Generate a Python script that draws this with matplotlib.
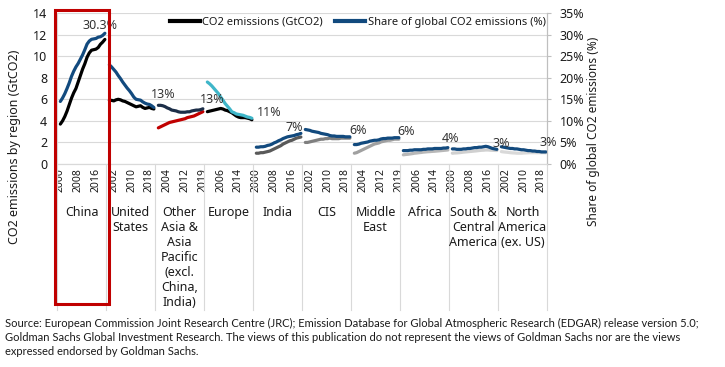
import matplotlib.pyplot as plt
from matplotlib.lines import Line2D
from matplotlib.patches import Rectangle
import matplotlib.transforms as mtransforms

plt.rcParams['font.family'] = ['Noto Sans', 'DejaVu Sans']

regions = ['China', 'United\nStates', 'Other\nAsia &\nAsia\nPacific\n(excl.\nChina,\nIndia)',
           'Europe', 'India', 'CIS', 'Middle\nEast', 'Africa',
           'South &\nCentral\nAmerica', 'North\nAmerica\n(ex. US)']

# CO2 emissions (GtCO2), 21 points per region
co2_china = [3.7, 4.0, 4.4, 4.9, 5.5, 6.1, 6.6, 7.0, 7.6, 8.2, 8.8, 9.3, 9.9, 10.3, 10.55, 10.6, 10.65, 10.8, 11.1, 11.3, 11.55]
co2_us = [5.9, 5.9, 5.85, 5.95, 6.0, 5.95, 5.85, 5.8, 5.7, 5.6, 5.5, 5.4, 5.3, 5.35, 5.4, 5.25, 5.15, 5.2, 5.25, 5.15, 5.1]
co2_asia = [3.35, 3.45, 3.55, 3.65, 3.75, 3.85, 3.9, 3.95, 4.0, 4.05, 4.1, 4.15, 4.2, 4.3, 4.35, 4.4, 4.45, 4.55, 4.65, 4.75, 4.85]
co2_europe = [4.85, 4.9, 4.95, 5.0, 5.05, 5.1, 5.15, 5.1, 5.0, 4.95, 4.85, 4.75, 4.6, 4.45, 4.35, 4.3, 4.3, 4.3, 4.25, 4.2, 4.1]
co2_india = [1.0, 1.0, 1.05, 1.05, 1.1, 1.15, 1.2, 1.3, 1.4, 1.5, 1.6, 1.7, 1.85, 1.95, 2.05, 2.15, 2.2, 2.3, 2.4, 2.45, 2.5]
co2_cis = [2.0, 2.0, 2.05, 2.1, 2.15, 2.2, 2.25, 2.3, 2.3, 2.35, 2.35, 2.4, 2.35, 2.35, 2.35, 2.35, 2.4, 2.4, 2.4, 2.4, 2.4]
co2_me = [1.0, 1.05, 1.15, 1.25, 1.35, 1.45, 1.55, 1.65, 1.75, 1.85, 1.9, 1.95, 2.05, 2.1, 2.15, 2.2, 2.2, 2.25, 2.3, 2.3, 2.3]
co2_africa = [0.85, 0.88, 0.9, 0.93, 0.96, 1.0, 1.02, 1.05, 1.07, 1.1, 1.12, 1.14, 1.15, 1.17, 1.18, 1.2, 1.22, 1.24, 1.26, 1.28, 1.3]
co2_sca = [1.0, 1.02, 1.03, 1.05, 1.07, 1.1, 1.12, 1.14, 1.16, 1.18, 1.2, 1.22, 1.25, 1.27, 1.28, 1.3, 1.3, 1.28, 1.27, 1.26, 1.25]
co2_na = [1.15, 1.12, 1.1, 1.08, 1.05, 1.03, 1.02, 1.0, 1.0, 1.0, 1.02, 1.03, 1.04, 1.05, 1.05, 1.05, 1.05, 1.05, 1.05, 1.05, 1.04]

# Share of global CO2 emissions (%)
share_china = [14.5, 15.3, 16.3, 17.5, 18.8, 20.3, 21.5, 22.5, 23.3, 24.3, 25.3, 26.5, 27.8, 28.5, 28.9, 29.0, 29.1, 29.4, 29.5, 29.8, 30.3]
share_us = [23.0, 22.5, 21.9, 21.3, 20.5, 19.8, 19.0, 18.3, 17.6, 17.0, 16.3, 15.5, 15.0, 14.9, 14.8, 14.4, 14.1, 13.9, 13.8, 13.5, 13.1]
share_asia = [13.6, 13.6, 13.5, 13.3, 13.0, 12.8, 12.5, 12.4, 12.3, 12.1, 12.0, 12.0, 12.0, 12.1, 12.1, 12.3, 12.4, 12.5, 12.5, 12.6, 12.8]
share_europe = [19.0, 18.6, 18.1, 17.5, 16.9, 16.3, 15.5, 14.8, 14.0, 13.4, 12.8, 12.1, 11.9, 11.6, 11.5, 11.4, 11.3, 11.1, 10.9, 10.8, 10.6]
share_india = [3.9, 3.9, 4.0, 4.0, 4.1, 4.3, 4.4, 4.6, 4.9, 5.1, 5.4, 5.6, 5.9, 6.1, 6.3, 6.4, 6.5, 6.6, 6.8, 6.9, 7.1]
share_cis = [8.0, 7.9, 7.8, 7.6, 7.5, 7.4, 7.3, 7.1, 7.0, 6.9, 6.8, 6.6, 6.5, 6.5, 6.4, 6.4, 6.4, 6.4, 6.3, 6.3, 6.3]
share_me = [4.5, 4.5, 4.6, 4.8, 4.9, 5.0, 5.1, 5.3, 5.4, 5.5, 5.5, 5.6, 5.8, 5.9, 5.9, 6.0, 6.0, 6.0, 6.1, 6.1, 6.1]
share_africa = [3.1, 3.1, 3.1, 3.2, 3.2, 3.3, 3.3, 3.3, 3.3, 3.4, 3.4, 3.5, 3.5, 3.5, 3.6, 3.6, 3.6, 3.6, 3.7, 3.7, 3.8]
share_sca = [3.5, 3.5, 3.4, 3.4, 3.4, 3.5, 3.5, 3.6, 3.6, 3.7, 3.8, 3.8, 3.9, 3.9, 4.0, 4.1, 4.0, 3.8, 3.6, 3.5, 3.4]
share_na = [4.0, 3.9, 3.8, 3.7, 3.6, 3.6, 3.5, 3.5, 3.4, 3.3, 3.3, 3.2, 3.1, 3.1, 3.0, 3.0, 2.9, 2.9, 2.8, 2.8, 2.8]

share_labels = ['30.3%', '13%', '13%', '11%', '7%', '6%', '6%', '4%', '3%', '3%']

year_labels = ['2000', '2008', '2016', '2002', '2010', '2018', '2004', '2012', '2019',
               '2006', '2014', '2000', '2008', '2016', '2002', '2010', '2018', '2004',
               '2012', '2019', '2006', '2014', '2000', '2008', '2016', '2002', '2010', '2018']

co2_series = [co2_china, co2_us, co2_asia, co2_europe, co2_india, co2_cis, co2_me,
              co2_africa, co2_sca, co2_na]
share_series = [share_china, share_us, share_asia, share_europe, share_india, share_cis,
                share_me, share_africa, share_sca, share_na]

co2_colors = ['black', 'black', '#c00000', 'black', '#595959', '#7f7f7f', '#a0a0a0',
              '#b8b8b8', '#d0d0d0', '#d9d9d9']
share_colors = ['#124a7e', '#124a7e', '#1c2e48', '#3fb6c9', '#124a7e', '#124a7e',
                '#124a7e', '#124a7e', '#124a7e', '#124a7e']
# label offsets in pixels from the last point
label_offsets = [(-5, 8), (9, 13), (9, 9), (17, 6), (-7, 6), (8, 6), (7, 6), (3, 9), (4, 6), (2, 9)]

slots = 22  # category slots per region
txt = '#1a1a1a'
grid = '#d9d9d9'

fig = plt.figure(figsize=(7.25, 3.67), dpi=100)
ax = fig.add_axes([57 / 725, 1 - 164 / 367, 490 / 725, 151 / 367])
ax2 = ax.twinx()

for r in range(len(regions)):
    xs = [slots * r + k + 0.5 for k in range(1, len(co2_series[r]) + 1)]
    ax.plot(xs, co2_series[r], color=co2_colors[r], lw=2.3, solid_capstyle='round')
    ax2.plot(xs, share_series[r], color=share_colors[r], lw=2.3, solid_capstyle='round')
    dx, dy = label_offsets[r]
    ax2.annotate(share_labels[r], (xs[-1], share_series[r][-1]), xytext=(dx, dy),
                 textcoords='offset pixels', ha='center', va='center',
                 fontsize=9, color='#333333')

ax.set_xlim(0, slots * len(regions))
ax.set_ylim(0, 14)
ax.set_yticks(range(0, 15, 2))
ax2.set_ylim(0, 35)
ax2.set_yticks(range(0, 36, 5))
ax2.set_yticklabels([f'{v}%' for v in range(0, 36, 5)])

tick_pos = [i + 0.5 for i in range(1, slots * len(regions), 8)]
ax.set_xticks(tick_pos)
ax.set_xticklabels(year_labels, rotation=90, fontsize=7.5, color=txt)
ax.tick_params(axis='x', length=0, pad=3)
ax.tick_params(axis='y', length=0, pad=7, labelsize=9, labelcolor=txt)
ax2.tick_params(axis='y', length=3, pad=6, labelsize=9, labelcolor=txt, color='#bfbfbf')

ax.yaxis.grid(True, color=grid, lw=0.8)
ax.set_axisbelow(True)
for a in (ax, ax2):
    a.spines['top'].set_visible(False)
    a.spines['left'].set_color(grid)
    a.spines['right'].set_color('#bfbfbf')
    a.spines['bottom'].set_color(grid)
ax2.spines['left'].set_visible(False)

# region separators and names under the axis
trans = mtransforms.blended_transform_factory(ax.transData, ax.transAxes)
for r in range(len(regions) + 1):
    ax.plot([slots * r, slots * r], [0, -0.967], transform=trans, color=grid, lw=0.8,
            clip_on=False)
for r, name in enumerate(regions):
    ax.text(slots * r + slots / 2, -0.275, name, transform=trans, ha='center', va='top',
            fontsize=9, color=txt, linespacing=1.2)

# legend
handles = [Line2D([], [], color='black', lw=3),
           Line2D([], [], color='#124a7e', lw=3)]
ax2.legend(handles, ['CO2 emissions (GtCO2)', 'Share of global CO2 emissions (%)'],
           loc='center left', bbox_to_anchor=(164 / 725, 1 - 22 / 367),
           bbox_transform=fig.transFigure, ncol=2, frameon=False, fontsize=8,
           handlelength=2.7, handletextpad=0.25, columnspacing=1.1, borderpad=0,
           labelcolor=txt)

fig.text(15 / 725, 1 - 147 / 367, 'CO2 emissions by region (GtCO2)', rotation=90,
         ha='center', va='center', fontsize=9, color=txt)
fig.text(594 / 725, 1 - 131 / 367, 'Share of global CO2 emissions (%)', rotation=90,
         ha='center', va='center', fontsize=8.5, color=txt)

# red highlight box around China
fig.patches.append(Rectangle((55.5 / 725, 1 - 304 / 367), 53 / 725, 294 / 367,
                             transform=fig.transFigure, fill=False, ec='#c00000',
                             lw=2.2, zorder=10))

fig.text(5 / 725, 1 - 318 / 367,
         'Source: European Commission Joint Research Centre (JRC); Emission Database for '
         'Global Atmospheric Research (EDGAR) release version 5.0;\n'
         'Goldman Sachs Global Investment Research. The views of this publication do not '
         'represent the views of Goldman Sachs nor are the views\n'
         'expressed endorsed by Goldman Sachs.',
         ha='left', va='top', fontsize=8, family=['Lato', 'DejaVu Sans'],
         color=txt, linespacing=1.35)

fig.savefig('out.png', dpi=100)
